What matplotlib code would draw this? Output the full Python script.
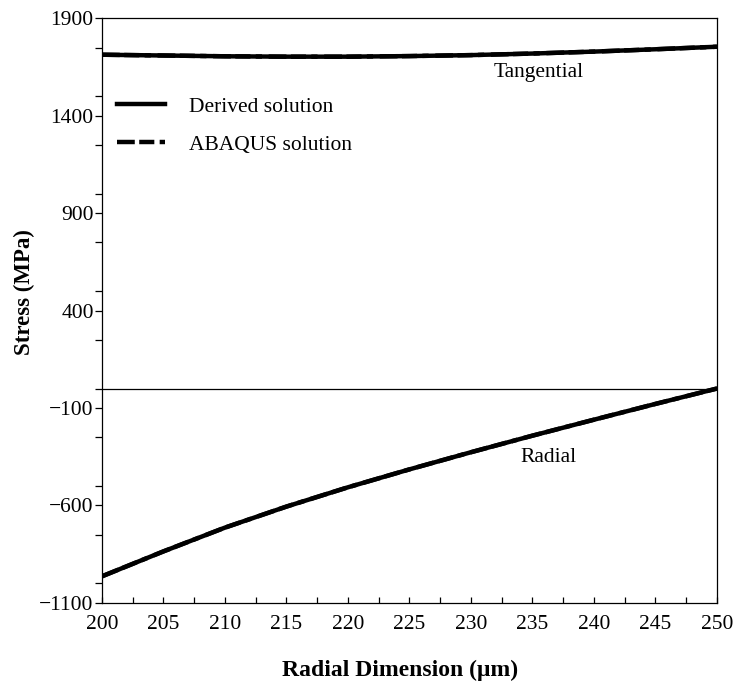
import matplotlib
matplotlib.use("Agg")
import matplotlib.pyplot as plt
from matplotlib.ticker import MultipleLocator

plt.rcParams['font.family'] = ['Liberation Serif', 'DejaVu Serif']
plt.rcParams['mathtext.fontset'] = 'stix'

# Data
radius = [200, 205, 210, 215, 220, 225, 230, 235, 240, 245, 250]
tangential = [1714, 1710, 1706, 1704, 1704, 1707, 1712, 1720, 1730, 1742, 1755]
radial = [-964, -836, -714, -606, -507, -415, -327, -242, -160, -79, 0]
abaqus_tangential = tangential
abaqus_radial = radial

x_ticks = [200, 205, 210, 215, 220, 225, 230, 235, 240, 245, 250]
y_ticks = [-1100, -600, -100, 400, 900, 1400, 1900]

fig = plt.figure(figsize=(7.39, 6.85), dpi=100)
ax = fig.add_axes([0.138, 0.120, 0.832, 0.853])

lw = 3.2
dashdot = (0, (4, 1, 3.4, 1.2, 1.4, 1.5))
ax.plot(radius, abaqus_tangential, color='black', lw=lw, ls=dashdot, label='ABAQUS solution', zorder=2)
ax.plot(radius, abaqus_radial, color='black', lw=lw, ls=dashdot, zorder=2)
ax.plot(radius, tangential, color='black', lw=lw, label='Derived solution', zorder=3)
ax.plot(radius, radial, color='black', lw=lw, zorder=3)
ax.axhline(0, color='black', lw=0.9, zorder=1)

ax.set_xlim(200, 250)
ax.set_ylim(-1100, 1900)
ax.set_xticks(x_ticks)
ax.set_yticks(y_ticks)
ax.xaxis.set_minor_locator(MultipleLocator(2.5))
ax.yaxis.set_minor_locator(MultipleLocator(250))

ax.tick_params(axis='x', which='both', direction='in', length=4, width=0.9,
               labelsize=15.5, pad=9, top=False)
ax.tick_params(axis='y', which='both', direction='out', length=5, width=0.9,
               labelsize=15.5, pad=1, right=False)
ax.set_yticklabels([str(v).replace('-', '\u2212') for v in y_ticks])

for s in ax.spines.values():
    s.set_linewidth(0.9)

ax.set_xlabel('Radial Dimension (\u03bcm)', fontsize=17, fontweight='bold')
ax.xaxis.set_label_coords(0.485, -0.098)
ax.set_ylabel('Stress (MPa)', fontsize=16.5, fontweight='bold')
ax.yaxis.set_label_coords(-0.109, 0.531)

ax.text(235.5, 1625, 'Tangential', fontsize=15.5, ha='center', va='center')
ax.text(236.3, -352, 'Radial', fontsize=15.5, ha='center', va='center')

handles, labels = ax.get_legend_handles_labels()
order = [1, 0]
ax.legend([handles[i] for i in order], [labels[i] for i in order],
          loc='upper left', bbox_to_anchor=(0.004, 0.888), frameon=False,
          fontsize=15.5, handlelength=2.2, handletextpad=1.15,
          labelspacing=0.82, borderpad=0.3, borderaxespad=0.3)

fig.savefig('out.png', dpi=100)
